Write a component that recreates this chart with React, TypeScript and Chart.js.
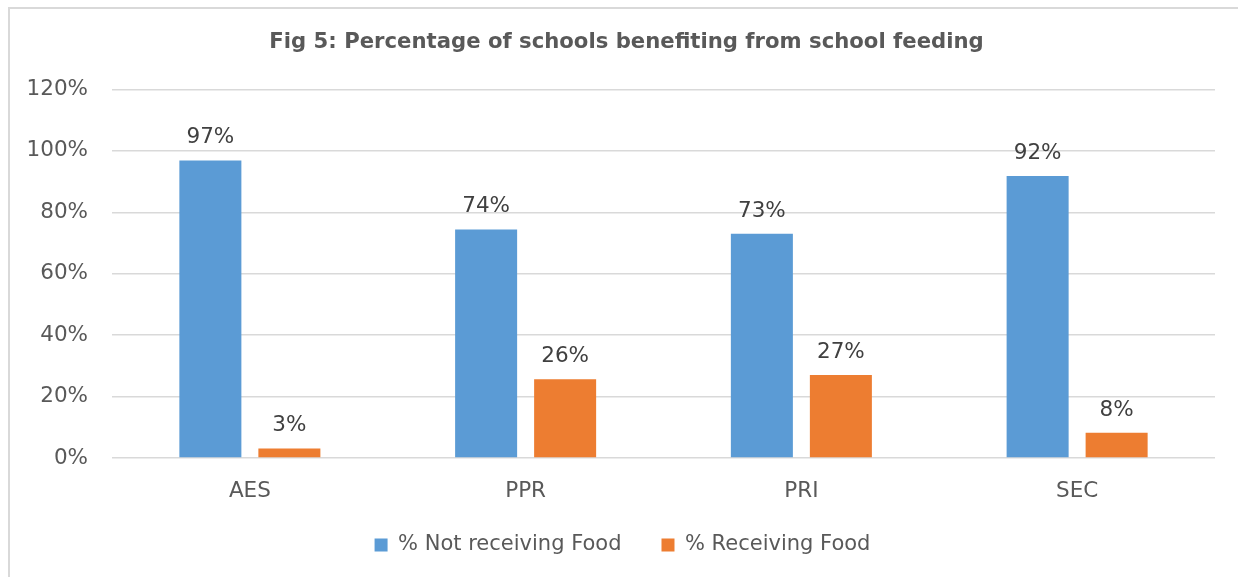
import React, { useEffect, useRef } from "react";
import { Chart, registerables } from "chart.js";

Chart.register(...registerables);

const categories = ["AES", "PPR", "PRI", "SEC"];
const notReceiving = [96.9, 74.4, 73.0, 91.8];
const receiving = [3.1, 25.6, 27.0, 8.2];
const seriesNames = ["% Not receiving Food", "% Receiving Food"];
const titleText = "Fig 5: Percentage of schools benefiting from school feeding";
const yMax = 120;
const yStep = 20;

const FONT = "'DejaVu Sans', Verdana, sans-serif";

const valueLabels = {
  id: "valueLabels",
  afterDatasetsDraw(chart: any) {
    const ctx = chart.ctx;
    ctx.save();
    ctx.font = `21.5px ${FONT}`;
    ctx.fillStyle = "#404040";
    ctx.textAlign = "center";
    ctx.textBaseline = "alphabetic";
    chart.data.datasets.forEach((ds: any, di: number) => {
      const meta = chart.getDatasetMeta(di);
      meta.data.forEach((bar: any, i: number) => {
        ctx.fillText(Math.round(ds.data[i]) + "%", bar.x, bar.y - 17);
      });
    });
    ctx.restore();
  },
};

const shiftBoxes = {
  id: "shiftBoxes",
  afterLayout(chart: any) {
    const t = chart.titleBlock;
    if (t) {
      t.left += 14;
      t.right += 14;
    }
    const l = chart.legend;
    if (l) {
      l.left += 10;
      l.right += 10;
      l.top -= 11.5;
      l.bottom -= 11.5;
    }
  },
};

export default function App() {
  const ref = useRef<HTMLCanvasElement>(null);
  useEffect(() => {
    const chart = new Chart(ref.current!, {
      type: "bar",
      data: {
        labels: categories,
        datasets: [
          {
            label: seriesNames[0],
            data: notReceiving,
            backgroundColor: "#5B9BD5",
            categoryPercentage: 0.573,
            barPercentage: 0.785,
          },
          {
            label: seriesNames[1],
            data: receiving,
            backgroundColor: "#ED7D31",
            categoryPercentage: 0.573,
            barPercentage: 0.785,
          },
        ],
      },
      options: {
        responsive: false,
        animation: false,
        layout: { padding: { left: 0, right: 23, top: 0, bottom: 0 } },
        plugins: {
          title: {
            display: true,
            text: titleText,
            color: "#595959",
            font: { family: FONT, size: 21.2, weight: "bold" },
            padding: { top: 20, bottom: 34 },
          },
          legend: {
            position: "bottom",
            labels: {
              color: "#595959",
              font: { family: FONT, size: 21 },
              boxWidth: 13,
              boxHeight: 13,
              padding: 40,
            },
          },
          tooltip: { enabled: false },
        },
        scales: {
          x: {
            afterFit(scale: any) {
              scale.height = 48;
            },
            grid: { display: false, drawTicks: false },
            border: { display: false },
            ticks: {
              color: "#595959",
              font: { family: FONT, size: 21.5 },
              padding: 21,
            },
          },
          y: {
            min: 0,
            max: yMax,
            afterFit(scale: any) {
              scale.width = 102;
            },
            grid: { color: "#D9D9D9", lineWidth: 1.5, drawTicks: false },
            border: { display: false },
            ticks: {
              stepSize: yStep,
              color: "#595959",
              font: { family: FONT, size: 21.5 },
              padding: 24,
              callback: (v: any) => v + "%",
            },
          },
        },
      },
      plugins: [valueLabels, shiftBoxes],
    });
    return () => chart.destroy();
  }, []);
  return (
    <div
      style={{
        position: "fixed",
        left: 8,
        top: 7,
        width: 1250,
        height: 580,
        boxSizing: "border-box",
        borderLeft: "2.5px solid #D9D9D9",
        borderTop: "2.5px solid #D9D9D9",
        overflow: "hidden",
        background: "#fff",
      }}
    >
      <canvas ref={ref} width={1228} height={567} style={{ display: "block", marginTop: 1 }} />
    </div>
  );
}
